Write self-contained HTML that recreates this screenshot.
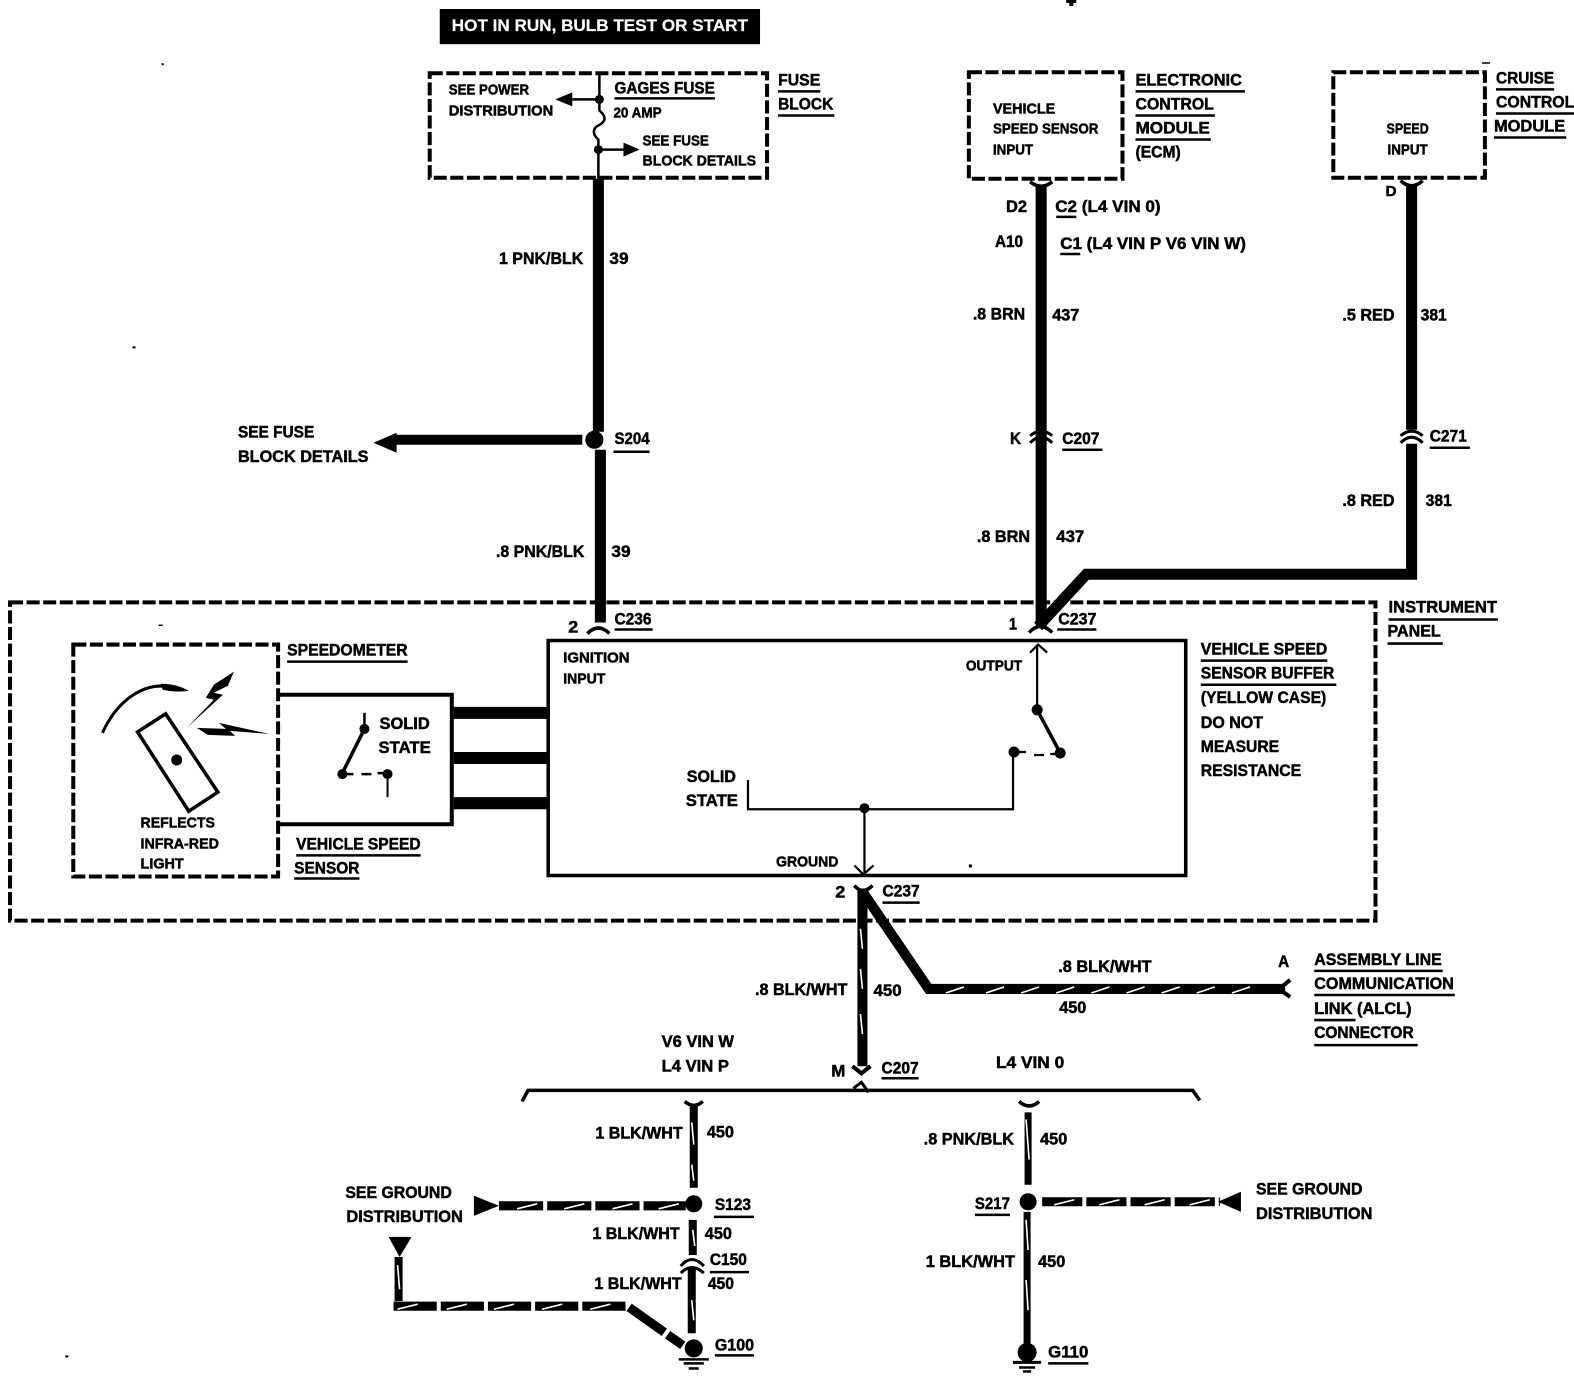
<!DOCTYPE html>
<html><head><meta charset="utf-8"><style>
html,body{margin:0;padding:0;background:#fff;width:1574px;height:1392px;overflow:hidden}
svg{display:block}
text{font-family:"Liberation Sans",sans-serif;font-weight:bold;fill:#000;font-size:17px;stroke:#000;stroke-width:.5px}
.s{font-size:15px}.m{font-size:18px}
</style></head><body>
<svg width="1574" height="1392" viewBox="0 0 1574 1392" xmlns="http://www.w3.org/2000/svg">
<g transform="scale(1.004)">
<!-- header -->
<rect x="438" y="9" width="319" height="35" fill="#000"/>
<text x="450" y="31" style="fill:#fff;stroke:#fff;stroke-width:.2px" font-size="16" textLength="295" lengthAdjust="spacingAndGlyphs">HOT IN RUN, BULB TEST OR START</text>

<!-- dashed boxes -->
<g fill="none" stroke="#000" stroke-width="4" stroke-dasharray="13 3.5">
<rect x="428" y="73" width="336" height="104"/>
<rect x="965" y="72" width="153" height="106"/>
<rect x="1328" y="72" width="151" height="105"/>
<rect x="10" y="600" width="1360" height="317"/>
<rect x="73" y="642" width="204" height="231"/>
</g>

<!-- thick wires -->
<g fill="none" stroke="#000" stroke-linejoin="miter">
<path d="M596 178V430M598 448V620" stroke-width="11"/>
<path d="M580 438H392" stroke-width="10"/>
<path d="M1037 185V625" stroke-width="11"/>
<path d="M1406 185V428M1406 442V572H1082L1034 624" stroke-width="11"/>
<path d="M859 885V1062" stroke-width="10"/>
<path d="M859 888L925 985H1280" stroke-width="10"/>
<path d="M691 1100V1183M690 1215V1250M689 1262V1328" stroke-width="8"/>
<path d="M1024 1108V1180M1023 1207V1338" stroke-width="7"/>
<path d="M1038 1197H1215" stroke-width="9" stroke-dasharray="40 4"/>
<path d="M497 1201H683" stroke-width="9" stroke-dasharray="44 4"/>
<path d="M392 1301H625L680 1340" stroke-width="9" stroke-dasharray="43 4"/>
<path d="M397 1252V1296" stroke-width="8"/>
</g>

<!-- white twist stripes on wires -->
<g stroke="#fff" stroke-width="1.6" fill="none">
<path d="M1000 983l-18 6M1035 983l-18 6M1070 983l-18 6M1105 983l-18 6M1140 983l-18 6M1175 983l-18 6M1210 983l-18 6M1245 983l-18 6M960 983l-18 6"/>
<path d="M515 1204l20-5M562 1204l20-5M610 1204l20-5M656 1204l20-5"/>
<path d="M1050 1200l20-5M1095 1200l20-5M1140 1200l20-5M1185 1200l20-5"/>
<path d="M396 1304l20-5M445 1304l20-5M492 1304l20-5M540 1304l20-5M588 1304l20-5"/>
<path d="M689 1118l2 22M689 1160l2 16M690 1225l2 16M689 1295l2 20M396 1260l2 24"/>
<path d="M1022 1115l3 40M1022 1215l2 30M1022 1275l2 30"/>
<path d="M857 925l2 20M857 965l2 20M857 1010l2 20"/>
</g>

<!-- solid boxes -->
<g fill="none" stroke="#000">
<rect x="546" y="638" width="635" height="234" stroke-width="3.5"/>
<path d="M277 692H450V821H277" stroke-width="4"/>
</g>
<path d="M452 710H546M452 755H546M452 800H546" stroke="#000" stroke-width="12"/>

<!-- fuse internals -->
<g fill="none" stroke="#000" stroke-width="2.5">
<path d="M597 73V99"/><path d="M597 99H570"/>
<path d="M597 99V110C604 116 604 121 596 125C590 128 590 134 596 139V150" />
<path d="M596 149H632"/><path d="M596 150V178"/>
</g>
<circle cx="597" cy="99" r="4.5"/><circle cx="596" cy="149" r="4.5"/>
<path d="M553 99L570 92V106Z"/><path d="M637 149L621 142V156Z"/>

<!-- branch arrow / splices -->
<path d="M372 441L395 431V451Z"/>
<circle cx="592" cy="438" r="9"/>
<circle cx="691" cy="1199" r="8.5"/>
<circle cx="1024" cy="1197" r="8.5"/>
<path d="M472 1191L497 1201L472 1211Z"/><path d="M1213 1197L1236 1187V1207Z"/>
<path d="M387 1232H410L398 1252Z"/>

<!-- connector caps -->
<g fill="none" stroke="#000" stroke-width="3.5">
<path d="M1026 181Q1037 190 1048 181"/>
<path d="M1395 180Q1406 190 1417 180"/>
<path d="M1026 441Q1037 430 1048 441M1026 434Q1037 425 1048 434" stroke-width="3"/>
<path d="M1395 441Q1406 430 1417 441M1395 434Q1406 425 1417 434" stroke-width="3"/>
<path d="M585 631Q596 620 607 631"/>
<path d="M1025 630Q1036 618 1048 630"/>
<path d="M851 882Q859 892 869 882"/>
<path d="M849 1062L858 1069L867 1062" stroke-width="4"/>
<path d="M1285 976L1274 985L1285 993" stroke-width="4"/>
<path d="M682 1097Q691 1105 700 1097"/>
<path d="M1015 1097Q1025 1106 1035 1097"/>
<path d="M678 1261Q689 1248 701 1261M678 1268Q689 1257 701 1268" stroke-width="3"/>
<path d="M520 1097L526 1086H1188L1195 1096"/>
<path d="M850 1084L858 1078L865 1088" stroke-width="3"/>
</g>

<!-- buffer internals -->
<g fill="none" stroke="#000" stroke-width="2.2">
<path d="M1033 642V706"/><path d="M1026 650L1034 642L1043 650"/>
<path d="M1033 707L1056 750" stroke-width="3.5"/>
<path d="M745 777V806H1009V748"/>
<path d="M861 806V870"/><path d="M851 862L860 871L870 862"/>
<path d="M1010 749H1022M1030 752H1040M1046 751H1056"/>
</g>
<circle cx="1033" cy="707" r="5.5"/><circle cx="1056" cy="750" r="5.5"/><circle cx="1010" cy="749" r="5.5"/><circle cx="861" cy="805" r="5"/>

<!-- speedometer internals -->
<g fill="none" stroke="#000">
<path d="M102 730C118 695 145 680 168 684" stroke-width="3"/>
<path d="M137 729L165 711L217 789L188 808Z" stroke-width="3.5"/>
</g>
<path d="M160 681Q176 681 188 688Q176 690 162 687Z"/>
<circle cx="176" cy="757" r="5.5"/>
<path d="M233 669L213 682L205 695L213 697L186 725L222 692L213 690L227 683Z"/>
<path d="M268 731L218 720L225 726L196 725L207 732L234 733L229 728Z"/>
<g fill="none" stroke="#000">
<path d="M363 710V726" stroke-width="2.5"/>
<path d="M363 726L341 770" stroke-width="3.5"/>
<path d="M341 771H352M360 771H370M376 770H386" stroke-width="2.5"/>
<path d="M386 771V794" stroke-width="2"/>
</g>
<circle cx="363" cy="726" r="5"/><circle cx="341" cy="771" r="5"/><circle cx="386" cy="771" r="5"/>

<!-- grounds -->
<circle cx="691" cy="1343" r="9"/><path d="M676 1354H706" stroke="#000" stroke-width="2.5"/><path d="M681 1358H701" stroke="#000" stroke-width="2.5"/><path d="M686 1363H696" stroke="#000" stroke-width="2.5"/>
<circle cx="1023" cy="1347" r="9.5"/><path d="M1009 1357H1037" stroke="#000" stroke-width="3"/><path d="M1015 1362H1031" stroke="#000" stroke-width="2.5"/><path d="M1019 1366H1027" stroke="#000" stroke-width="2.5"/>

<!-- underlines -->
<path stroke="#000" stroke-width="2.5" fill="none" d="M612 98H712M775 91H817M775 115H831M1131 91H1240M1131 115H1210M1131 139H1206M1490 89H1548M1490 113H1568M1488 137H1560M1052 216H1072M1056 253H1076M611 450H647M1058 448H1098M1424 446H1464M612 627H650M1053 627H1092M286 659H406M1196 658H1322M1196 682H1331M1383 617H1492M1382 641H1437M295 852H419M293 875H358M879 899H916M1309 967H1437M1309 991H1449M1309 1016H1350M1309 1041H1412M878 1074H915M711 1212H751M971 1210H1006M707 1267H746M712 1350H751M1044 1358H1084"/>

<!-- text -->
<g transform="translate(0,-1)">
<text x="447" y="95" class="s" textLength="80" lengthAdjust="spacingAndGlyphs">SEE POWER</text>
<text x="447" y="116" class="s" textLength="104" lengthAdjust="spacingAndGlyphs">DISTRIBUTION</text>
<text x="612" y="94" textLength="100" lengthAdjust="spacingAndGlyphs">GAGES FUSE</text>
<text x="611" y="118" class="s" textLength="48" lengthAdjust="spacingAndGlyphs">20 AMP</text>
<text x="640" y="146" class="s" textLength="66" lengthAdjust="spacingAndGlyphs">SEE FUSE</text>
<text x="640" y="166" class="s" textLength="113" lengthAdjust="spacingAndGlyphs">BLOCK DETAILS</text>
<text x="775" y="86" textLength="42" lengthAdjust="spacingAndGlyphs">FUSE</text>
<text x="775" y="110" textLength="55" lengthAdjust="spacingAndGlyphs">BLOCK</text>
<text x="989" y="114" class="s" textLength="62" lengthAdjust="spacingAndGlyphs">VEHICLE</text>
<text x="989" y="134" class="s" textLength="105" lengthAdjust="spacingAndGlyphs">SPEED SENSOR</text>
<text x="989" y="155" class="s" textLength="40" lengthAdjust="spacingAndGlyphs">INPUT</text>
<text x="1131" y="86" textLength="106" lengthAdjust="spacingAndGlyphs">ELECTRONIC</text>
<text x="1131" y="110" textLength="78" lengthAdjust="spacingAndGlyphs">CONTROL</text>
<text x="1131" y="134" textLength="74" lengthAdjust="spacingAndGlyphs">MODULE</text>
<text x="1131" y="158" textLength="45" lengthAdjust="spacingAndGlyphs">(ECM)</text>
<text x="1490" y="84" textLength="58" lengthAdjust="spacingAndGlyphs">CRUISE</text>
<text x="1490" y="108" textLength="78" lengthAdjust="spacingAndGlyphs">CONTROL</text>
<text x="1488" y="132" textLength="71" lengthAdjust="spacingAndGlyphs">MODULE</text>
<text x="1381" y="134" class="s" textLength="42" lengthAdjust="spacingAndGlyphs">SPEED</text>
<text x="1382" y="155" class="s" textLength="40" lengthAdjust="spacingAndGlyphs">INPUT</text>
<text x="1380" y="196" class="s" textLength="11" lengthAdjust="spacingAndGlyphs">D</text>
<text x="1002" y="212" textLength="21" lengthAdjust="spacingAndGlyphs">D2</text>
<text x="1051" y="212" textLength="105" lengthAdjust="spacingAndGlyphs">C2 (L4 VIN 0)</text>
<text x="991" y="247" textLength="28" lengthAdjust="spacingAndGlyphs">A10</text>
<text x="1056" y="249" textLength="185" lengthAdjust="spacingAndGlyphs">C1 (L4 VIN P  V6 VIN W)</text>
<text x="497" y="264" textLength="84" lengthAdjust="spacingAndGlyphs">1 PNK/BLK</text>
<text x="607" y="264" textLength="19" lengthAdjust="spacingAndGlyphs">39</text>
<text x="969" y="319" textLength="52" lengthAdjust="spacingAndGlyphs">.8 BRN</text>
<text x="1048" y="320" textLength="27" lengthAdjust="spacingAndGlyphs">437</text>
<text x="1337" y="320" textLength="52" lengthAdjust="spacingAndGlyphs">.5 RED</text>
<text x="1415" y="320" textLength="26" lengthAdjust="spacingAndGlyphs">381</text>
<text x="237" y="437" textLength="76" lengthAdjust="spacingAndGlyphs">SEE FUSE</text>
<text x="237" y="461" textLength="130" lengthAdjust="spacingAndGlyphs">BLOCK DETAILS</text>
<text x="612" y="443" textLength="35" lengthAdjust="spacingAndGlyphs">S204</text>
<text x="1006" y="443" textLength="11" lengthAdjust="spacingAndGlyphs">K</text>
<text x="1058" y="443" textLength="37" lengthAdjust="spacingAndGlyphs">C207</text>
<text x="1424" y="441" textLength="37" lengthAdjust="spacingAndGlyphs">C271</text>
<text x="1337" y="505" textLength="52" lengthAdjust="spacingAndGlyphs">.8 RED</text>
<text x="1420" y="505" textLength="26" lengthAdjust="spacingAndGlyphs">381</text>
<text x="973" y="541" textLength="53" lengthAdjust="spacingAndGlyphs">.8 BRN</text>
<text x="1052" y="541" textLength="28" lengthAdjust="spacingAndGlyphs">437</text>
<text x="494" y="556" textLength="88" lengthAdjust="spacingAndGlyphs">.8 PNK/BLK</text>
<text x="609" y="556" textLength="19" lengthAdjust="spacingAndGlyphs">39</text>
<text x="566" y="631" textLength="10" lengthAdjust="spacingAndGlyphs">2</text>
<text x="612" y="623" textLength="37" lengthAdjust="spacingAndGlyphs">C236</text>
<text x="1005" y="628" textLength="8" lengthAdjust="spacingAndGlyphs">1</text>
<text x="1054" y="623" textLength="38" lengthAdjust="spacingAndGlyphs">C237</text>
<text x="1383" y="611" textLength="108" lengthAdjust="spacingAndGlyphs">INSTRUMENT</text>
<text x="1382" y="635" textLength="53" lengthAdjust="spacingAndGlyphs">PANEL</text>
<text x="286" y="654" textLength="120" lengthAdjust="spacingAndGlyphs">SPEEDOMETER</text>
<text x="561" y="661" class="s" textLength="66" lengthAdjust="spacingAndGlyphs">IGNITION</text>
<text x="561" y="682" class="s" textLength="42" lengthAdjust="spacingAndGlyphs">INPUT</text>
<text x="962" y="669" class="s" textLength="56" lengthAdjust="spacingAndGlyphs">OUTPUT</text>
<text x="1196" y="653" textLength="126" lengthAdjust="spacingAndGlyphs">VEHICLE SPEED</text>
<text x="1196" y="677" textLength="133" lengthAdjust="spacingAndGlyphs">SENSOR BUFFER</text>
<text x="1196" y="701" textLength="125" lengthAdjust="spacingAndGlyphs">(YELLOW CASE)</text>
<text x="1196" y="726" textLength="62" lengthAdjust="spacingAndGlyphs">DO NOT</text>
<text x="1196" y="750" textLength="78" lengthAdjust="spacingAndGlyphs">MEASURE</text>
<text x="1196" y="774" textLength="100" lengthAdjust="spacingAndGlyphs">RESISTANCE</text>
<text x="378" y="727" textLength="50" lengthAdjust="spacingAndGlyphs">SOLID</text>
<text x="377" y="751" textLength="52" lengthAdjust="spacingAndGlyphs">STATE</text>
<text x="684" y="780" textLength="49" lengthAdjust="spacingAndGlyphs">SOLID</text>
<text x="683" y="804" textLength="52" lengthAdjust="spacingAndGlyphs">STATE</text>
<text x="140" y="825" class="s" textLength="74" lengthAdjust="spacingAndGlyphs">REFLECTS</text>
<text x="140" y="846" class="s" textLength="78" lengthAdjust="spacingAndGlyphs">INFRA-RED</text>
<text x="140" y="866" class="s" textLength="43" lengthAdjust="spacingAndGlyphs">LIGHT</text>
<text x="295" y="847" textLength="124" lengthAdjust="spacingAndGlyphs">VEHICLE SPEED</text>
<text x="293" y="871" textLength="65" lengthAdjust="spacingAndGlyphs">SENSOR</text>
<text x="773" y="864" class="s" textLength="62" lengthAdjust="spacingAndGlyphs">GROUND</text>
<text x="832" y="895" textLength="10" lengthAdjust="spacingAndGlyphs">2</text>
<text x="879" y="894" textLength="37" lengthAdjust="spacingAndGlyphs">C237</text>
<text x="1054" y="969" textLength="93" lengthAdjust="spacingAndGlyphs">.8 BLK/WHT</text>
<text x="752" y="992" textLength="92" lengthAdjust="spacingAndGlyphs">.8 BLK/WHT</text>
<text x="870" y="993" textLength="28" lengthAdjust="spacingAndGlyphs">450</text>
<text x="1055" y="1010" textLength="27" lengthAdjust="spacingAndGlyphs">450</text>
<text x="1273" y="964" textLength="11" lengthAdjust="spacingAndGlyphs">A</text>
<text x="1309" y="962" textLength="127" lengthAdjust="spacingAndGlyphs">ASSEMBLY LINE</text>
<text x="1309" y="986" textLength="139" lengthAdjust="spacingAndGlyphs">COMMUNICATION</text>
<text x="1309" y="1011" textLength="97" lengthAdjust="spacingAndGlyphs">LINK (ALCL)</text>
<text x="1309" y="1035" textLength="99" lengthAdjust="spacingAndGlyphs">CONNECTOR</text>
<text x="659" y="1044" textLength="72" lengthAdjust="spacingAndGlyphs">V6 VIN W</text>
<text x="659" y="1068" textLength="67" lengthAdjust="spacingAndGlyphs">L4 VIN P</text>
<text x="992" y="1065" textLength="68" lengthAdjust="spacingAndGlyphs">L4 VIN 0</text>
<text x="828" y="1073" textLength="14" lengthAdjust="spacingAndGlyphs">M</text>
<text x="878" y="1070" textLength="37" lengthAdjust="spacingAndGlyphs">C207</text>
<text x="593" y="1135" textLength="87" lengthAdjust="spacingAndGlyphs">1 BLK/WHT</text>
<text x="704" y="1134" textLength="27" lengthAdjust="spacingAndGlyphs">450</text>
<text x="920" y="1141" textLength="90" lengthAdjust="spacingAndGlyphs">.8 PNK/BLK</text>
<text x="1036" y="1141" textLength="27" lengthAdjust="spacingAndGlyphs">450</text>
<text x="344" y="1194" textLength="106" lengthAdjust="spacingAndGlyphs">SEE GROUND</text>
<text x="345" y="1218" textLength="116" lengthAdjust="spacingAndGlyphs">DISTRIBUTION</text>
<text x="1251" y="1191" textLength="106" lengthAdjust="spacingAndGlyphs">SEE GROUND</text>
<text x="1251" y="1215" textLength="116" lengthAdjust="spacingAndGlyphs">DISTRIBUTION</text>
<text x="712" y="1206" textLength="36" lengthAdjust="spacingAndGlyphs">S123</text>
<text x="971" y="1205" textLength="35" lengthAdjust="spacingAndGlyphs">S217</text>
<text x="590" y="1235" textLength="87" lengthAdjust="spacingAndGlyphs">1 BLK/WHT</text>
<text x="702" y="1235" textLength="27" lengthAdjust="spacingAndGlyphs">450</text>
<text x="707" y="1261" textLength="37" lengthAdjust="spacingAndGlyphs">C150</text>
<text x="922" y="1263" textLength="89" lengthAdjust="spacingAndGlyphs">1 BLK/WHT</text>
<text x="1034" y="1263" textLength="27" lengthAdjust="spacingAndGlyphs">450</text>
<text x="592" y="1285" textLength="87" lengthAdjust="spacingAndGlyphs">1 BLK/WHT</text>
<text x="705" y="1285" textLength="26" lengthAdjust="spacingAndGlyphs">450</text>
<text x="712" y="1346" textLength="39" lengthAdjust="spacingAndGlyphs">G100</text>
<text x="1044" y="1353" textLength="40" lengthAdjust="spacingAndGlyphs">G110</text>
</g>

<!-- specks -->
<g fill="#000">
<rect x="1062" y="0" width="10" height="3"/><rect x="1065" y="3" width="4" height="3"/>
<rect x="1476" y="62" width="8" height="1.5"/><rect x="161" y="63" width="2" height="2"/><rect x="132" y="345" width="3" height="2"/>
<rect x="965" y="861" width="3" height="3"/><rect x="65" y="1350" width="3" height="2"/><rect x="158" y="622" width="4" height="1.5"/>
</g>
</g>
</svg>
</body></html>
